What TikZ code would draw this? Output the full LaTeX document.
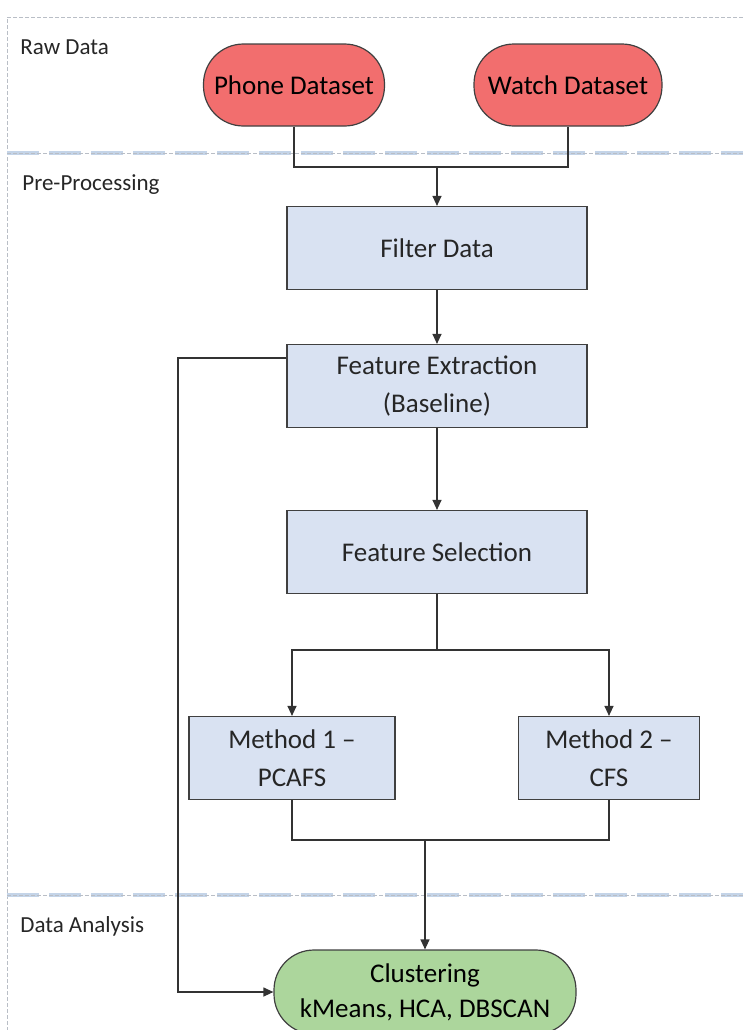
\documentclass[tikz,border=0pt]{standalone}
\usepackage{fontspec}
\setmainfont{Carlito}
\usepackage{xcolor}
\definecolor{datared}{RGB}{242,110,110}
\definecolor{stepblue}{RGB}{217,226,242}
\definecolor{clustgreen}{RGB}{172,214,156}
\definecolor{lanegray}{RGB}{185,190,198}
\definecolor{laneblue}{RGB}{196,212,232}
\usetikzlibrary{arrows.meta,positioning}

\tikzset{
	stepbox/.style={
		draw=black!75,        % dark border
		line width=0.6pt,     % border thickness
		fill=stepblue,        % pale blue fill
		text=black!85,        % dark text
		rectangle,            % shape
		minimum width=150pt,  % box width
		minimum height=41.5pt,% box height
		align=center,         % two-line labels
		font=\fontsize{13.5}{19}\selectfont
	},
	terminal/.style={
		draw=black!75,        % dark border
		line width=0.6pt,     % border thickness
		rectangle,            % shape
		rounded corners=20pt, % stadium ends
		minimum height=41pt,  % box height
		inner xsep=1pt,       % padding
		align=center,
		font=\fontsize{13.5}{17.5}\selectfont
	},
	lanelabel/.style={
		anchor=west,
		text=black!85,
		inner sep=0pt,
		font=\fontsize{11.5}{13}\selectfont
	},
	flow/.style={
		draw=black!80,
		line width=0.6pt,
		-{Triangle[length=5pt,width=4.5pt]}
	},
	link/.style={
		draw=black!80,
		line width=0.6pt
	}
}

\begin{document}
\begin{tikzpicture}[x=0.5pt,y=-0.5pt]
	\useasboundingbox (0,0) rectangle (743,1030);
	% swimlane frame
	\draw[lanegray,line width=0.4pt,dash pattern=on 2pt off 1pt] (743,17) -- (7,17) -- (7,1030);
	\foreach \ly in {153,895}{
		\draw[laneblue,line width=1.6pt,dash pattern=on 16pt off 5pt] (7,\ly) -- (743,\ly);
		\draw[lanegray,line width=0.4pt,dash pattern=on 2pt off 1pt] (7,\ly) -- (743,\ly);
	}
	\node[lanelabel] (rawlbl) at (20,47) {Raw Data};
	\node[lanelabel] (prelbl) at (22,185) {Pre-Processing};
	\node[lanelabel] (analbl) at (20,926) {Data Analysis};

	% raw data
	\node[terminal,fill=datared,minimum width=90.5pt] (phone) at (294,85) {Phone Dataset};
	\node[terminal,fill=datared,minimum width=94pt] (watch) at (568,85) {Watch Dataset};

	% pre-processing
	\node[stepbox] (filter) at (437,248) {Filter Data};
	\node[stepbox] (extract) at (437,386) {Feature Extraction\\(Baseline)};
	\node[stepbox] (select) at (437,552) {Feature Selection};
	\node[stepbox,minimum width=103pt] (method1) at (292,758) {Method 1 --\\PCAFS};
	\node[stepbox,minimum width=90.5pt] (method2) at (609,758) {Method 2 --\\CFS};

	% data analysis
	\node[terminal,fill=clustgreen,minimum width=151pt,minimum height=42pt] (clust) at (425,992) {Clustering\\kMeans, HCA, DBSCAN};

	% connectors
	\coordinate (rawjoin) at (437,167);
	\coordinate (split) at (437,650);
	\coordinate (methjoin) at (425,840);
	\coordinate (bypass) at (178,358);
	\draw[link] (phone.south) |- (rawjoin) -| (watch.south);
	\draw[flow] (rawjoin) -- (filter.north);
	\draw[flow] (filter) -- (extract);
	\draw[flow] (extract) -- (select);
	\draw[link] (select.south) -- (split);
	\draw[flow] (split) -| (method1.north);
	\draw[flow] (split) -| (method2.north);
	\draw[link] (method1.south) |- (methjoin) -| (method2.south);
	\draw[flow] (methjoin) -- (clust.north);
	\draw[flow] (extract.west |- bypass) -- (bypass) |- (clust.west);
\end{tikzpicture}
\end{document}
